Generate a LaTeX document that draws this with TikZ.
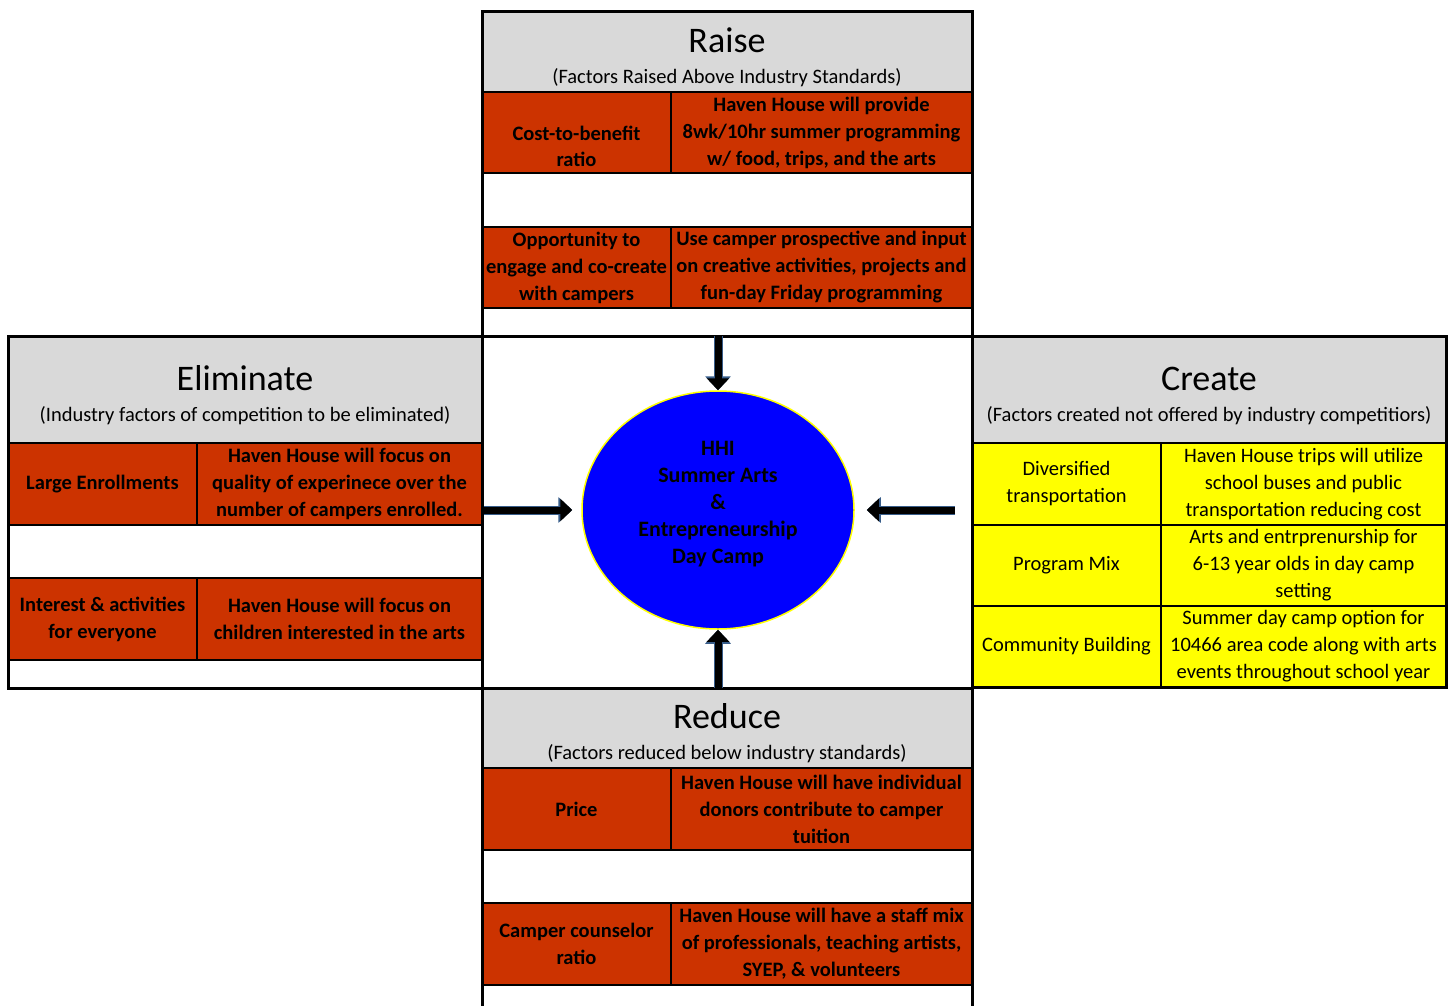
\documentclass[tikz,border=0pt]{standalone}
\usepackage{fontspec}
\setmainfont{Carlito}
\usepackage{xcolor}
\usetikzlibrary{positioning,arrows.meta,shapes.geometric}
\definecolor{hhorange}{RGB}{204,51,0}
\definecolor{hhgrey}{RGB}{217,217,217}
\definecolor{hhyellow}{RGB}{255,255,0}
\definecolor{hhblue}{RGB}{0,0,255}
\definecolor{arrowedge}{RGB}{56,93,138}
\tikzset{
  head/.style={
    rectangle,
    draw=black, line width=2pt,
    fill=hhgrey,
    anchor=north west,
    inner sep=0pt, outer sep=0pt,
    align=center,
    text height=63pt, text depth=0pt,
    font=\fontsize{20.5}{31}\selectfont},
  cell/.style={
    rectangle,
    draw=black, line width=2pt,
    fill=hhorange,
    inner sep=0pt, outer sep=0pt,
    align=center,
    font=\fontsize{20.5}{27}\selectfont\bfseries},
  cellc/.style={cell, fill=hhyellow, font=\fontsize{20.5}{27}\selectfont},
  blk/.style={rectangle, draw=black, line width=3pt, anchor=north west, inner sep=0pt, outer sep=0pt},
}
\begin{document}
\begin{tikzpicture}[x=1pt,y=-1pt]
    \tikzset{
        hub/.style={ellipse, draw=hhyellow, line width=1.5pt, fill=hhblue, minimum width=272pt, minimum height=238pt, inner sep=0pt, text depth=16pt, align=center, font=\fontsize{22}{27}\selectfont\bfseries},
        bigarrow/.style={draw=black, line width=7pt, -{Triangle[width=22pt,length=12pt]},
          preaction={draw=arrowedge, line width=9pt, -{Triangle[width=25pt,length=14pt]}}},
    }
    \useasboundingbox (0,0) rectangle (1456,1006);

    % Raise
    \node[head, minimum width=490pt, minimum height=80pt] (raise) at (482,12) {{\fontsize{36}{40}\selectfont Raise}\\(Factors Raised Above Industry Standards)};
    \node[cell, minimum width=189pt, minimum height=81pt, text height=69pt, text depth=0pt, below right=0pt and 0pt of raise.south west] (r1a) {Cost-to-benefit\\ratio};
    \node[cell, minimum width=301pt, minimum height=81pt, right=0pt of r1a] (r1b) {Haven House will provide\\8wk/10hr summer programming\\w/ food, trips, and the arts};
    \node[cell, minimum width=189pt, minimum height=81pt, below=54pt of r1a] (r2a) {Opportunity to\\engage and co-create\\with campers};
    \node[cell, minimum width=301pt, minimum height=81pt, right=0pt of r2a] (r2b) {Use camper prospective and input\\on creative activities, projects and\\fun-day Friday programming};

    % Eliminate
    \node[head, minimum width=474pt, minimum height=107pt] (elim) at (8,336) {{\fontsize{36}{40}\selectfont Eliminate}\\(Industry factors of competition to be eliminated)};
    \node[cell, minimum width=189pt, minimum height=82pt, below right=0pt and 0pt of elim.south west] (e1a) {Large Enrollments};
    \node[cell, minimum width=285pt, minimum height=82pt, right=0pt of e1a] (e1b) {Haven House will focus on\\quality of experinece over the\\number of campers enrolled.};
    \node[cell, minimum width=189pt, minimum height=82pt, below=53pt of e1a] (e2a) {Interest \& activities\\for everyone};
    \node[cell, minimum width=285pt, minimum height=82pt, right=0pt of e2a] (e2b) {Haven House will focus on\\children interested in the arts};

    % Create
    \node[head, minimum width=474pt, minimum height=107pt] (create) at (972,336) {{\fontsize{36}{40}\selectfont Create}\\(Factors created not offered by industry competitiors)};
    \node[cellc, minimum width=189pt, minimum height=82pt, below right=0pt and 0pt of create.south west] (c1a) {Diversified\\transportation};
    \node[cellc, minimum width=285pt, minimum height=82pt, right=0pt of c1a] (c1b) {Haven House trips will utilize\\school buses and public\\transportation reducing cost};
    \node[cellc, minimum width=189pt, minimum height=81pt, below=0pt of c1a] (c2a) {Program Mix};
    \node[cellc, minimum width=285pt, minimum height=81pt, right=0pt of c2a] (c2b) {Arts and entrprenurship for\\6-13 year olds in day camp\\setting};
    \node[cellc, minimum width=189pt, minimum height=81pt, below=0pt of c2a] (c3a) {Community Building};
    \node[cellc, minimum width=285pt, minimum height=81pt, right=0pt of c3a] (c3b) {Summer day camp option for\\10466 area code along with arts\\events throughout school year};

    % Reduce
    \node[head, minimum width=490pt, minimum height=80pt] (reduce) at (482,688) {{\fontsize{36}{40}\selectfont Reduce}\\(Factors reduced below industry standards)};
    \node[cell, minimum width=189pt, minimum height=82pt, below right=0pt and 0pt of reduce.south west] (d1a) {Price};
    \node[cell, minimum width=301pt, minimum height=82pt, right=0pt of d1a] (d1b) {Haven House will have individual\\donors contribute to camper\\tuition};
    \node[cell, minimum width=189pt, minimum height=82pt, below=53pt of d1a] (d2a) {Camper counselor\\ratio};
    \node[cell, minimum width=301pt, minimum height=82pt, right=0pt of d2a] (d2b) {Haven House will have a staff mix\\of professionals, teaching artists,\\SYEP, \& volunteers};

    % frames
    \node[blk, minimum width=490pt, minimum height=324pt] (raiseblk) at (482,12) {};
    \node[blk, minimum width=474pt, minimum height=352pt] (elimblk) at (8,336) {};
    \node[blk, minimum width=474pt, minimum height=351pt] (createblk) at (972,336) {};
    \node[blk, minimum width=490pt, minimum height=352pt] (cenblk) at (482,336) {};
    \node[blk, minimum width=490pt, minimum height=322pt] (reduceblk) at (482,688) {};

    % centre
    \node[hub] (hhi) at (718,510) {HHI\\Summer Arts\\\&\\Entrepreneurship\\Day Camp};

    \draw[bigarrow] (hhi.north |- raiseblk.south) -- (hhi.north);
    \draw[bigarrow, shorten <=2pt, shorten >=9pt] (elimblk.east |- hhi.west) -- (hhi.west);
    \draw[bigarrow, shorten <=17pt, shorten >=12pt] (createblk.west |- hhi.east) -- (hhi.east);
    \draw[bigarrow] (hhi.south |- reduceblk.north) -- (hhi.south);
\end{tikzpicture}
\end{document}
